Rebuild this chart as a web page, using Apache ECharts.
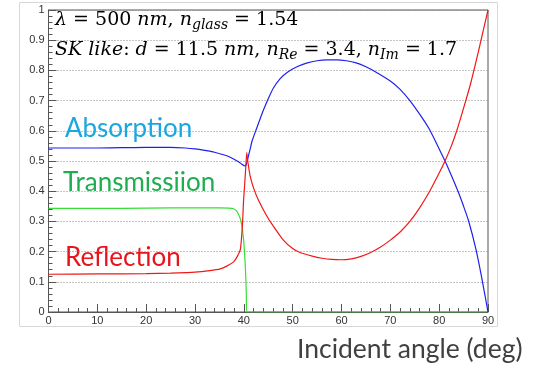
<!DOCTYPE html>
<html>
<head>
<meta charset="utf-8">
<script src="https://cdn.jsdelivr.net/npm/echarts@6/dist/echarts.min.js"></script>
<style>html,body{margin:0;padding:0;background:#fff;}#c{width:535px;height:365px;}</style>
</head>
<body>
<div id="c"></div>
<script>
// Absorption (blue)
const absAngle = [0,5,10,15,20,25,28,30,32,34,36,37,38,39,39.6,40.2,40.5,40.7,41.0,41.3,41.7,42.3,43,44,45,46,47.4,49,51,53,55,57,59,61,63,65,67,70,72,74,76,78,80,81.2,82.5,83.9,85,86,87.5,88.7,90];
const absValue = [0.543,0.543,0.543,0.544,0.545,0.545,0.543,0.540,0.535,0.529,0.520,0.514,0.506,0.497,0.489,0.484,0.488,0.50,0.52,0.54,0.567,0.594,0.625,0.668,0.706,0.74,0.772,0.795,0.813,0.825,0.832,0.835,0.835,0.832,0.825,0.812,0.795,0.765,0.737,0.70,0.655,0.605,0.54,0.50,0.452,0.398,0.35,0.303,0.21,0.115,0.0];
// Reflection (red)
const refAngle = [0,10,20,25,30,33,35.2,36.5,37.9,38.7,39.3,39.7,39.95,40.2,40.4,40.6,40.8,41.3,42,43,44.7,46,48,50,51.5,54,56,58,60,62,64,66,68,70,72,74,76,78,80,81.2,82.5,83.6,85,86.5,88,89,90];
const refValue = [0.125,0.126,0.127,0.129,0.132,0.137,0.143,0.152,0.166,0.185,0.208,0.285,0.37,0.43,0.48,0.528,0.50,0.45,0.41,0.37,0.318,0.285,0.24,0.21,0.197,0.185,0.178,0.174,0.173,0.176,0.184,0.197,0.215,0.238,0.265,0.30,0.345,0.398,0.46,0.50,0.55,0.60,0.675,0.76,0.86,0.93,1.0];
// Transmission (green)
const traAngle = [0,10,20,30,35,37,37.9,38.5,38.9,39.3,39.6,39.95,40.3,40.5,40.6,45,60,75,90];
const traValue = [0.343,0.343,0.344,0.345,0.345,0.344,0.342,0.335,0.324,0.308,0.285,0.24,0.153,0.066,0.0,0,0,0,0];

const xTicks = {min: 0, max: 90, interval: 10};
const yTicks = {min: 0, max: 1, interval: 0.1};

function pairs(a, b) { return a.map((x, i) => [x, b[i]]); }

const chart = echarts.init(document.getElementById('c'), null, {renderer: 'canvas'});
const labelFont = {fontFamily: 'Liberation Sans', fontSize: 11, color: '#333'};
const mathFont = 'DejaVu Serif';
const rich = {
  i: {fontFamily: mathFont, fontStyle: 'italic', fontSize: 19, color: '#3a3a3a'},
  u: {fontFamily: mathFont, fontSize: 19, color: '#3a3a3a'},
  s: {fontFamily: mathFont, fontStyle: 'italic', fontSize: 14, color: '#3a3a3a', padding: [10, 0, 0, 0]}
};
function line(name, a, b, color) {
  return {
    type: 'line', name: name, data: pairs(a, b), showSymbol: false,
    smooth: 0.2,
    lineStyle: {color: color, width: 1.2}, animation: false
  };
}
chart.setOption({
  animation: false,
  backgroundColor: '#fff',
  grid: {left: 48.5, right: 47, top: 10, bottom: 53, show: true, borderColor: '#555', borderWidth: 1, backgroundColor: 'transparent'},
  xAxis: {
    type: 'value', min: xTicks.min, max: xTicks.max, interval: xTicks.interval,
    axisLine: {show: true, lineStyle: {color: '#555', width: 1}},
    axisTick: {show: true, inside: true, length: 8, lineStyle: {color: '#555'}},
    minorTick: {show: true, splitNumber: 5, length: 4, lineStyle: {color: '#555'}},
    axisLabel: Object.assign({margin: 3}, labelFont),
    splitLine: {show: false}
  },
  yAxis: {
    type: 'value', min: yTicks.min, max: yTicks.max, interval: yTicks.interval,
    axisLine: {show: true, lineStyle: {color: '#555', width: 1}},
    axisTick: {show: true, inside: true, length: 8, lineStyle: {color: '#555'}},
    minorTick: {show: true, splitNumber: 5, length: 4, lineStyle: {color: '#555'}},
    axisLabel: Object.assign({margin: 4}, labelFont),
    splitLine: {show: true, lineStyle: {color: '#888', width: 1, type: [1, 2]}}
  },
  series: [
    line('Transmission', traAngle, traValue, '#33e033'),
    line('Absorption', absAngle, absValue, '#2020ee'),
    line('Reflection', refAngle, refValue, '#f01818')
  ],
  graphic: [
    {type: 'rect', shape: {x: 19.5, y: 2.5, width: 478, height: 324}, style: {fill: 'none', stroke: '#d8d8d8', lineWidth: 1}, z: -1},
    {type: 'text', x: 55, y: 20, style: {text: '{i|λ}{u| = 500 }{i|nm}{u|, }{i|n}{s|glass}{u| = 1.54}', rich: rich, verticalAlign: 'middle'}},
    {type: 'text', x: 55, y: 50, style: {text: '{i|SK like}{u|: }{i|d}{u| = 11.5 }{i|nm}{u|, }{i|n}{s|Re}{u| = 3.4, }{i|n}{s|Im}{u| = 1.7}', rich: rich, verticalAlign: 'middle'}},
    {type: 'text', x: 65, y: 129, style: {text: 'Absorption', fontFamily: 'Lato', fontSize: 26, fill: '#1ca6e0', verticalAlign: 'middle'}},
    {type: 'text', x: 63, y: 183, style: {text: 'Transmissiion', fontFamily: 'Lato', fontSize: 26, fill: '#1fae4f', verticalAlign: 'middle'}},
    {type: 'text', x: 65, y: 258, style: {text: 'Reflection', fontFamily: 'Lato', fontSize: 26, fill: '#e8141c', verticalAlign: 'middle'}},
    {type: 'text', x: 297, y: 349, style: {text: 'Incident angle (deg)', fontFamily: 'Lato', fontSize: 26.5, fill: '#404040', verticalAlign: 'middle'}}
  ]
});
</script>
</body>
</html>
